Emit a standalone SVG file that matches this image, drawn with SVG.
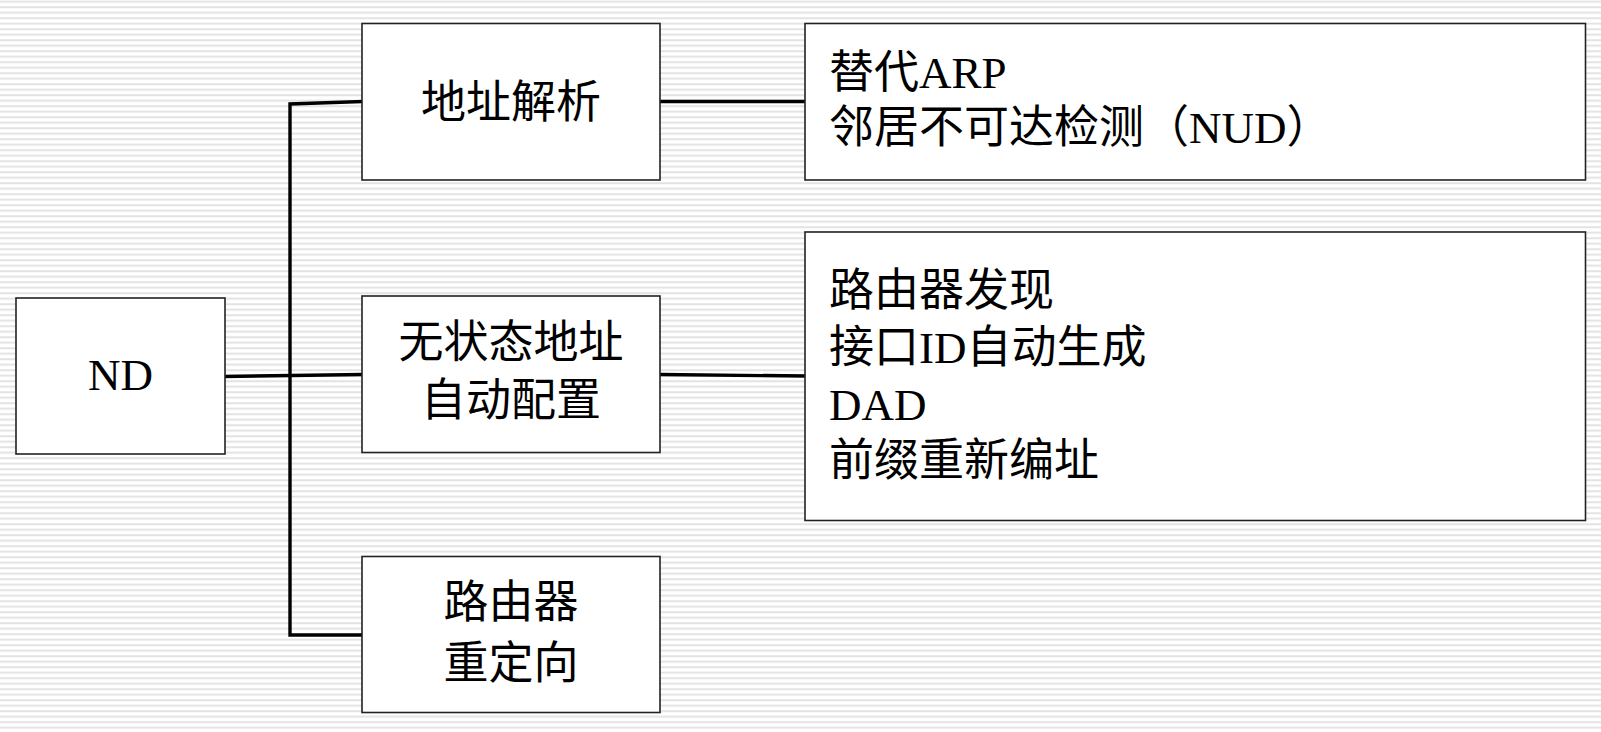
<svg xmlns="http://www.w3.org/2000/svg" width="1601" height="732" viewBox="0 0 1601 732">
  <defs>
    <pattern id="stripes" patternUnits="userSpaceOnUse" x="0" y="0.5" width="8" height="5.5">
      <rect x="0" y="0" width="8" height="5.5" fill="#ffffff"/>
      <rect x="0" y="0.3" width="8" height="1.8" fill="#e0e0e0"/>
    </pattern>
  </defs>
  <style>
    .box { fill: #ffffff; stroke: #222222; stroke-width: 1.6; }
    .conn { fill: none; stroke: #000000; stroke-width: 3.4; stroke-linecap: square; }
    .t { font-family: "Liberation Serif", "Noto Sans CJK SC", serif; fill: #000000; font-size: 45px; }
    .c { text-anchor: middle; }
  </style>
  <rect x="0" y="0" width="1601" height="732" fill="url(#stripes)"/>

  <g id="connectors">
    <polyline class="conn" points="362,101.5 290,104 290,635 362,635"/>
    <line class="conn" x1="224" y1="376.5" x2="362" y2="374.5"/>
    <line class="conn" x1="660" y1="101.5" x2="805" y2="101.5"/>
    <line class="conn" x1="660" y1="374.5" x2="805" y2="376"/>
  </g>

  <g id="node-nd">
    <rect class="box" x="16" y="298" width="209" height="156"/>
    <text class="t" x="120.5" y="390" text-anchor="middle" font-size="46">ND</text>
  </g>

  <g id="node-addr-resolution">
    <rect class="box" x="362" y="23.5" width="298" height="156.5"/>
    <text class="t c" x="511" y="118">地址解析</text>
  </g>

  <g id="node-slaac">
    <rect class="box" x="362" y="296" width="298" height="156.5"/>
    <text class="t c" x="511" y="358">无状态地址</text>
    <text class="t c" x="511" y="416">自动配置</text>
  </g>

  <g id="node-redirect">
    <rect class="box" x="362" y="556.5" width="298" height="156"/>
    <text class="t c" x="511" y="618">路由器</text>
    <text class="t c" x="511" y="679">重定向</text>
  </g>

  <g id="node-ar-details">
    <rect class="box" x="805" y="23.5" width="780.5" height="156.5"/>
    <text class="t" x="829" y="88">替代ARP</text>
    <text class="t" x="829" y="143">邻居不可达检测（NUD）</text>
  </g>

  <g id="node-slaac-details">
    <rect class="box" x="805" y="232" width="780.5" height="288.5"/>
    <text class="t" x="829" y="306">路由器发现</text>
    <text class="t" x="829" y="363">接口ID自动生成</text>
    <text class="t" x="829" y="419.5">DAD</text>
    <text class="t" x="829" y="476">前缀重新编址</text>
  </g>
</svg>
